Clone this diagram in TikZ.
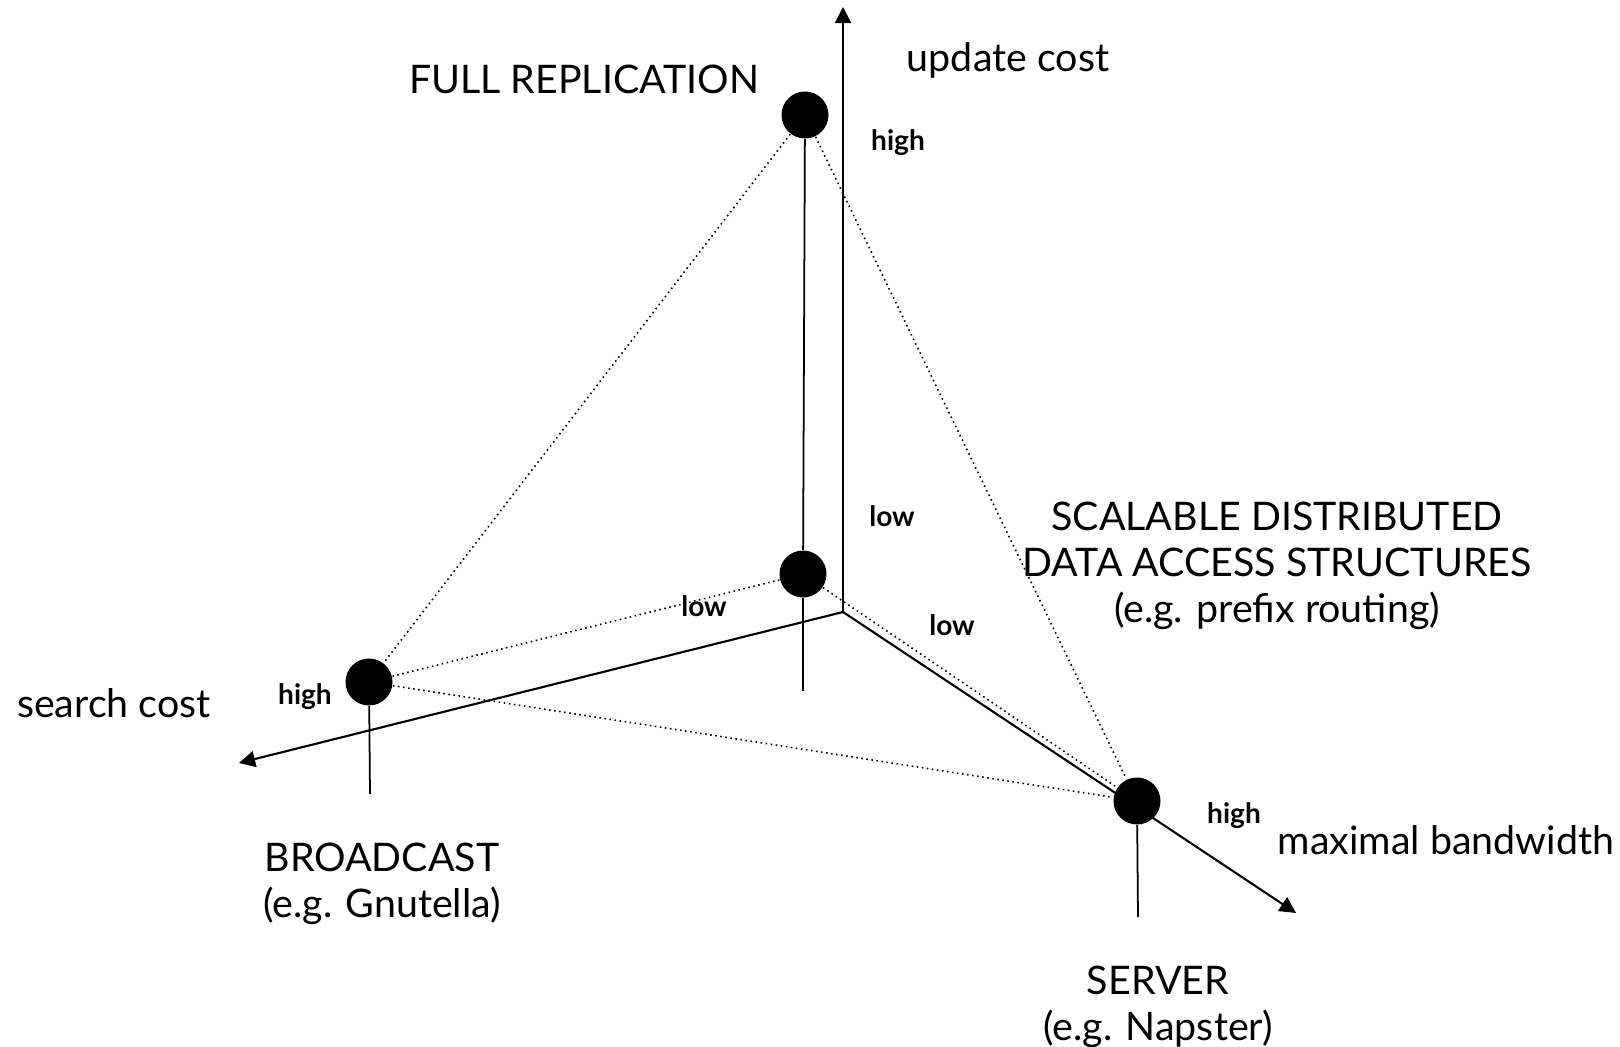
\documentclass[tikz,border=0pt]{standalone}
\usepackage{fontspec}
\setmainfont{Lato}
\usetikzlibrary{positioning}
\usetikzlibrary{arrows.meta}

\tikzset{
   ball/.style={circle,fill=black,inner sep=0pt,minimum size=4.7mm},
   axisline/.style={line width=0.6pt,-{Triangle[length=4.6pt,width=4.6pt]}},
   stemline/.style={line width=0.5pt},
   dotline/.style={densely dotted,line width=0.45pt},
   big/.style={font=\fontsize{11.2}{13}\selectfont},
   lvl/.style={font=\fontsize{8}{9}\selectfont\bfseries},
}

\begin{document}
\begin{tikzpicture}[x=0.1mm,y=-0.1mm]
      \useasboundingbox (0,0) rectangle (1620,1047);

      \coordinate (o) at (843,612);
      \coordinate (uptip) at (843,7);
      \coordinate (sctip) at (239,763);
      \coordinate (bwtip) at (1296,913);

      \node[ball] (fr) at (805,115) {};
      \node[ball] (mid) at (803,574) {};
      \node[ball] (bc) at (369,682) {};
      \node[ball] (sv) at (1137,801) {};

      \coordinate (midend) at (803,691);
      \coordinate (bcend) at (370,794);
      \coordinate (svend) at (1138,917);

      \draw[axisline] (o) -- (uptip);
      \draw[axisline] (o) -- (sctip);
      \draw[axisline] (o) -- (bwtip);

      \draw[stemline] (fr) -- (mid);
      \draw[stemline] (mid) -- (midend);
      \draw[stemline] (bc) -- (bcend);
      \draw[stemline] (sv) -- (svend);

      \draw[dotline] (fr) -- (bc);
      \draw[dotline] (fr) -- (sv);
      \draw[dotline] (mid) -- (bc);
      \draw[dotline] (mid) -- (sv);
      \draw[dotline] (bc) -- (sv);

      \node[big] (upd) at (1008,60) {update cost};
      \node[big] (frl) at (584,79) {FULL REPLICATION};
      \node[big] (scl) at (114,703) {search cost};
      \node[big] (bwl) at (1446,840) {maximal bandwidth};
      \node[big,align=center] (sdl) at (1277,566)
         {SCALABLE DISTRIBUTED\\DATA ACCESS STRUCTURES\\(e.g. prefix routing)};
      \node[big,align=center,below=0.37cm of bcend,xshift=1.2mm] (bcl)
         {BROADCAST\\(e.g. Gnutella)};
      \node[big,align=center,below=0.37cm of svend,xshift=2.0mm] (svl)
         {SERVER\\(e.g. Napster)};

      \node[lvl] (h1) at (898,143) {high};
      \node[lvl] (l1) at (892,516) {low};
      \node[lvl] (l2) at (704,606) {low};
      \node[lvl] (l3) at (952,625) {low};
      \node[lvl] (h2) at (305,697) {high};
      \node[lvl] (h3) at (1234,816) {high};
\end{tikzpicture}
\end{document}
